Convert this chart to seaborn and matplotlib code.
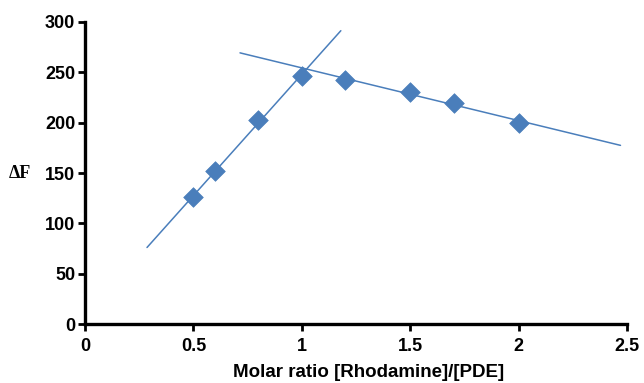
import numpy as np
import pandas as pd
import matplotlib
matplotlib.use("Agg")
import matplotlib.pyplot as plt
import seaborn as sns

# Data
ratio = [0.5, 0.6, 0.8, 1.0, 1.2, 1.5, 1.7, 2.0]
delta_f = [126, 152, 203, 246, 242, 230, 220, 200]
# points used for each linear fit
rising_idx = [0, 1, 2, 3]
falling_idx = [4, 5, 6, 7]
# extent of each drawn fit line
rising_range = [0.286, 1.18]
falling_range = [0.715, 2.47]
x_ticks = [0, 0.5, 1, 1.5, 2, 2.5]
x_tick_labels = ["0", "0.5", "1", "1.5", "2", "2.5"]
y_ticks = [0, 50, 100, 150, 200, 250, 300]

sns.set_theme(style="ticks")
plt.rcParams['font.family'] = ['Liberation Sans', 'DejaVu Sans']
plt.rcParams['text.color'] = 'black'
plt.rcParams['xtick.color'] = 'black'
plt.rcParams['ytick.color'] = 'black'
plt.rcParams['axes.labelcolor'] = 'black'

color = "#4a7ebb"
fig = plt.figure(figsize=(6.44, 3.83), dpi=100)
ax = fig.add_axes([0.132, 0.154, 0.8416, 0.7886])

df = pd.DataFrame({"x": ratio, "y": delta_f})

def fit_line(idx, rng):
    xs = np.array([ratio[i] for i in idx])
    ys = np.array([delta_f[i] for i in idx])
    m, b = np.polyfit(xs, ys, 1)
    lx = np.array(rng)
    return pd.DataFrame({"x": lx, "y": m * lx + b})

for idx, rng in [(rising_idx, rising_range), (falling_idx, falling_range)]:
    ld = fit_line(idx, rng)
    sns.lineplot(data=ld, x="x", y="y", ax=ax, color=color, lw=1.1, zorder=2)

sns.scatterplot(data=df, x="x", y="y", ax=ax, marker="D", s=100, color=color,
                edgecolor=color, linewidth=0.5, zorder=3)

ax.set_xlim(0, 2.5)
ax.set_ylim(0, 300)
ax.set_xticks(x_ticks)
ax.set_xticklabels(x_tick_labels)
ax.set_yticks(y_ticks)
for lab in ax.get_xticklabels() + ax.get_yticklabels():
    lab.set_fontweight("bold")
    lab.set_fontsize(13)
    lab.set_color("black")
ax.tick_params(axis="y", direction="out", length=5, width=2, color="black", pad=2)
ax.tick_params(axis="x", direction="out", length=5, width=2, color="black", pad=5)

for s in ["top", "right"]:
    ax.spines[s].set_visible(False)
for s in ["left", "bottom"]:
    ax.spines[s].set_linewidth(2.4)
    ax.spines[s].set_color("black")

ax.set_xlabel("Molar ratio [Rhodamine]/[PDE]", fontsize=13.5, fontweight="bold",
              color="black", va="center")
ax.xaxis.set_label_coords(0.524, -0.159)
ax.set_ylabel("")
fig.text(0.031, 0.548, "ΔF", fontsize=13, fontweight="bold", color="black",
         family=['Liberation Serif', 'DejaVu Serif'], ha="center", va="center")

fig.savefig("out.png", dpi=100)
